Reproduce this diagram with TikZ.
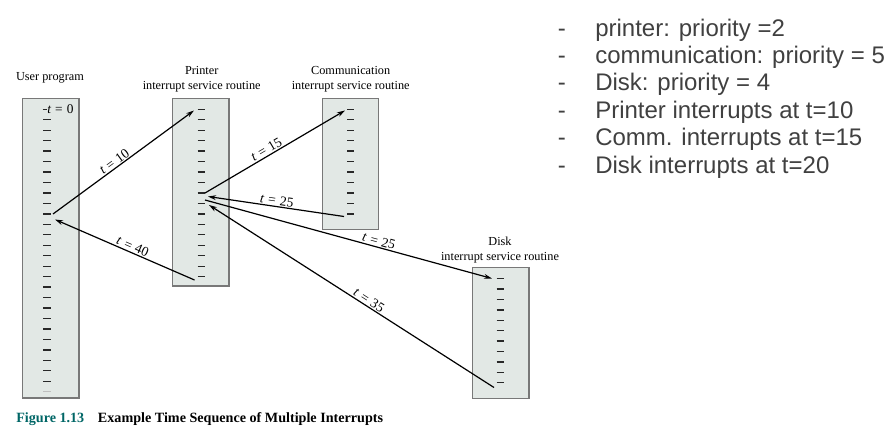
\documentclass[tikz,border=0pt]{standalone}
\usepackage{fontspec}
\setmainfont{Liberation Serif}
\newfontfamily\sansf{Liberation Sans}
\usetikzlibrary{arrows.meta}
\definecolor{boxfill}{RGB}{226,232,229}
\definecolor{boxline}{RGB}{120,120,120}
\definecolor{tickc}{RGB}{40,40,40}
\definecolor{notec}{RGB}{64,64,64}
\definecolor{figc}{RGB}{0,102,102}
\newcommand{\tval}[1]{\textit{t}\hspace{0.3em}=\hspace{0.3em}#1}
\begin{document}
\begin{tikzpicture}[x=0.75pt,y=-0.75pt,
 boxst/.style={draw=boxline, line width=0.8pt, fill=boxfill, anchor=north west, inner sep=0pt, outer sep=0pt},
 tickst/.style={draw=tickc, line width=1pt},
 arr/.style={-{Stealth[length=6pt,width=3.6pt]}, line width=0.9pt},
 rarr/.style={{Stealth[length=6pt,width=3.6pt]}-, line width=0.9pt},
 tlab/.style={font=\fontsize{10.2}{11}\selectfont, sloped, above, inner sep=0.8pt},
 head/.style={font=\fontsize{9.2}{11.25}\selectfont, align=center, inner sep=0pt},
 note/.style={font=\sansf\fontsize{18}{20}\selectfont, text=notec, anchor=base west, inner sep=0pt},
 capst/.style={font=\bfseries\fontsize{10.6}{12}\selectfont, anchor=base west, inner sep=0pt},
]
\useasboundingbox (0,0) rectangle (889,441);

% boxes
\node[boxst, minimum width=42.2pt, minimum height=224.8pt] (user) at (22.7,98.3) {};
\node[boxst, minimum width=42.2pt, minimum height=140.8pt] (prn) at (172.7,98.3) {};
\node[boxst, minimum width=41.7pt, minimum height=98.3pt] (com) at (322.7,98.3) {};
\node[boxst, minimum width=42.5pt, minimum height=98.3pt] (dsk) at (472.3,267.3) {};

% ticks
\draw[tickst] (42.7,109.3) -- (47,109.3);
\foreach \i in {1,...,26} \draw[tickst] (43,109.3+\i*10.46) -- (51,109.3+\i*10.46);
\draw[tickst, draw=gray!50] (43,391.7) -- (51,391.7);
\foreach \i in {0,...,16} \draw[tickst] (197.7,109.3+\i*10.46) -- (205,109.3+\i*10.46);
\foreach \i in {0,...,10} \draw[tickst] (347.3,109.3+\i*10.46) -- (354,109.3+\i*10.46);
\foreach \i in {0,...,10} \draw[tickst] (496.7,278.7+\i*10.4) -- (504.3,278.7+\i*10.4);

% headings
\node[head] (huser) at (50,78.3) {User program};
\node[head] (hprn) at (201.7,79.2) {Printer\\interrupt service routine};
\node[head] (hcom) at (350.7,79.2) {Communication\\interrupt service routine};
\node[head] (hdsk) at (500,250) {Disk\\interrupt service routine};
\node[font=\fontsize{10}{11}\selectfont, anchor=west, inner sep=0pt] (t0) at (47,109.3) {\tval{0}};

% arrow endpoints
\coordinate (u10) at (53,214.0);
\coordinate (p0) at (194,110.5);
\coordinate (p8) at (205,193);
\coordinate (c0) at (345,110.5);
\coordinate (c10s) at (344,216.5);
\coordinate (p8b) at (208,196.5);
\coordinate (p9s) at (205,200);
\coordinate (d0) at (492,278.5);
\coordinate (d10s) at (494,387.5);
\coordinate (p9b) at (209,205);
\coordinate (p16s) at (194.5,280);
\coordinate (u10b) at (55,219.5);

% arrows
\draw[arr] (u10) -- node[tlab, pos=0.46] {\tval{10}} (p0);
\draw[arr] (p8) -- node[tlab, pos=0.46] {\tval{15}} (c0);
\draw[rarr] (p8b) -- node[tlab, pos=0.5] {\tval{25}} (c10s);
\draw[arr] (p9s) -- node[tlab, pos=0.6] {\tval{25}} (d0);
\draw[rarr] (p9b) -- node[tlab, pos=0.55] {\tval{35}} (d10s);
\draw[rarr] (u10b) -- node[tlab, pos=0.54] {\tval{40}} (p16s);

% notes
\foreach \y/\txt [count=\k] in {36.1/printer: priority =2, 63.5/communication: priority = 5, 90.9/Disk: priority = 4, 118.3/Printer interrupts at t=10, 145.7/Comm. interrupts at t=15, 173.1/Disk interrupts at t=20} {
  \node[note] (d\k) at (557.5,\y) {-};
  \node[note] (n\k) at (595,\y) {\txt};
}

% caption
\node[capst, text=figc] (fig) at (16,423) {Figure 1.13};
\node[capst] (cap) at (97.7,423) {Example Time Sequence of Multiple Interrupts};
\end{tikzpicture}
\end{document}
